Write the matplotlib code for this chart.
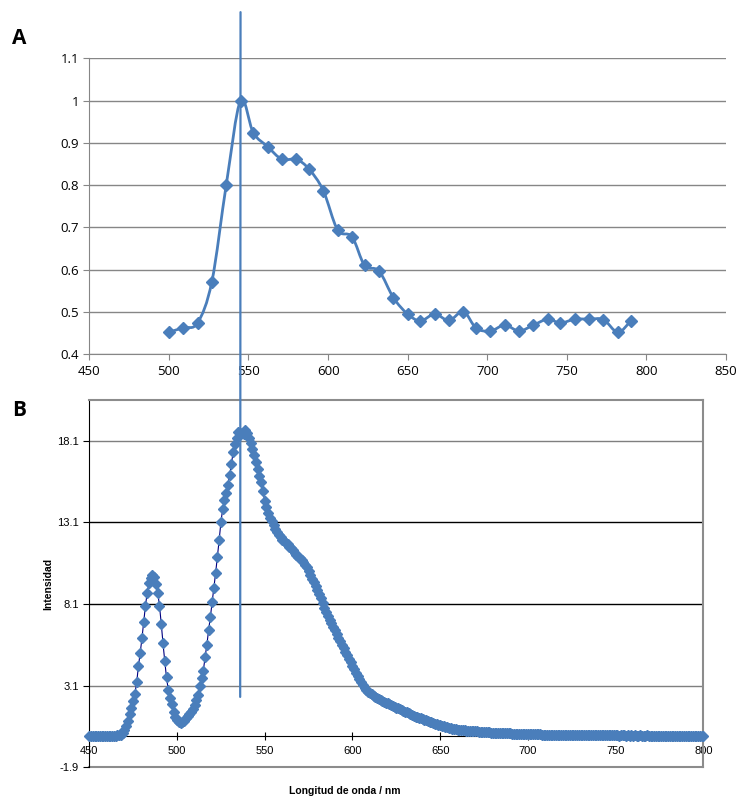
import numpy as np
import matplotlib
matplotlib.use("Agg")
import matplotlib.pyplot as plt
from matplotlib.patches import ConnectionPatch, PathPatch
from matplotlib.path import Path

# Panel A: espectro normalizado
onda_a = [500, 509, 518, 527, 536, 545, 553, 562, 571, 580, 588, 597, 606, 615, 623, 632, 641,
          650, 658, 667, 676, 685, 693, 702, 711, 720, 729, 738, 746, 755, 764, 773, 782, 790]
valor_a = [0.452, 0.463, 0.474, 0.572, 0.800, 1.000, 0.924, 0.891, 0.861, 0.861, 0.838, 0.787,
           0.694, 0.678, 0.610, 0.597, 0.534, 0.495, 0.479, 0.495, 0.480, 0.501, 0.462, 0.455,
           0.469, 0.455, 0.469, 0.483, 0.474, 0.483, 0.483, 0.482, 0.452, 0.478]
ticks_xa = [450, 500, 550, 600, 650, 700, 750, 800, 850]
ticks_ya = [0.4, 0.5, 0.6, 0.7, 0.8, 0.9, 1.0, 1.1]
etiquetas_ya = ["0.4", "0.5", "0.6", "0.7", "0.8", "0.9", "1", "1.1"]

# Panel B: intensidad cada 1 nm de 450 a 800
intensidad = [
    0.03, 0.02, 0.03, 0.03, 0.02, 0.03, 0.02, 0.03, 0.03, 0.02,   # 450
    0.03, 0.03, 0.02, 0.03, 0.03, 0.04, 0.05, 0.06, 0.09, 0.20,   # 460
    0.38, 0.60, 0.95, 1.35, 1.75, 2.15, 2.60, 3.30, 4.30, 5.10,   # 470
    6.00, 7.00, 8.00, 8.80, 9.40, 9.70, 9.90, 9.75, 9.30, 8.80,   # 480
    8.00, 6.90, 5.70, 4.60, 3.60, 2.85, 2.35, 1.95, 1.50, 1.20,   # 490
    1.00, 0.88, 0.83, 0.86, 0.96, 1.10, 1.23, 1.36, 1.50, 1.70,   # 500
    1.92, 2.20, 2.55, 3.05, 3.55, 4.02, 4.85, 5.60, 6.50, 7.30,   # 510
    8.20, 9.10, 10.00, 11.00, 12.00, 13.10, 13.90, 14.50, 14.90, 15.40,  # 520
    16.00, 16.70, 17.40, 17.90, 18.30, 18.65, 18.60, 18.55, 18.50, 18.75,  # 530
    18.55, 18.25, 17.95, 17.60, 17.20, 16.80, 16.40, 15.95, 15.55, 15.00,  # 540
    14.40, 14.05, 13.70, 13.40, 13.20, 12.95, 12.70, 12.50, 12.35, 12.20,  # 550
    12.05, 11.95, 11.85, 11.75, 11.62, 11.53, 11.40, 11.25, 11.12, 11.00,  # 560
    10.90, 10.80, 10.65, 10.50, 10.35, 10.10, 9.85, 9.65, 9.45, 9.20,   # 570
    8.95, 8.70, 8.45, 8.15, 7.85, 7.60, 7.36, 7.13, 6.92, 6.70,   # 580
    6.48, 6.26, 6.04, 5.82, 5.60, 5.38, 5.16, 4.95, 4.74, 4.53,   # 590
    4.32, 4.11, 3.90, 3.70, 3.50, 3.30, 3.12, 2.96, 2.84, 2.74,   # 600
    2.65, 2.57, 2.49, 2.41, 2.34, 2.28, 2.22, 2.16, 2.11, 2.06,   # 610
    2.01, 1.96, 1.91, 1.86, 1.81, 1.76, 1.71, 1.66, 1.61, 1.56,   # 620
    1.51, 1.46, 1.41, 1.36, 1.31, 1.26, 1.21, 1.17, 1.13, 1.09,   # 630
    1.05, 1.01, 0.97, 0.93, 0.89, 0.85, 0.81, 0.77, 0.74, 0.71,   # 640
    0.68, 0.65, 0.62, 0.59, 0.56, 0.53, 0.50, 0.47, 0.45, 0.43,   # 650
    0.41, 0.40, 0.38, 0.37, 0.36, 0.35, 0.34, 0.33, 0.32, 0.31,   # 660
    0.31, 0.30, 0.29, 0.28, 0.27, 0.26, 0.25, 0.25, 0.24, 0.23,   # 670
    0.22, 0.22, 0.21, 0.21, 0.20, 0.19, 0.19, 0.18, 0.18, 0.17,   # 680
    0.17, 0.16, 0.16, 0.15, 0.15, 0.15, 0.14, 0.14, 0.13, 0.13,   # 690
    0.13, 0.12, 0.12, 0.12, 0.11, 0.11, 0.11, 0.11, 0.10, 0.10,   # 700
    0.10, 0.10, 0.09, 0.09, 0.09, 0.09, 0.09, 0.08, 0.08, 0.08,   # 710
    0.08, 0.08, 0.08, 0.07, 0.07, 0.07, 0.07, 0.07, 0.07, 0.07,   # 720
    0.06, 0.06, 0.07, 0.06, 0.06, 0.06, 0.06, 0.05, 0.06, 0.06,   # 730
    0.06, 0.05, 0.06, 0.05, 0.05, 0.06, 0.05, 0.05, 0.05, 0.05,   # 740
    0.05, 0.05, 0.04, 0.05, 0.05, 0.05, 0.04, 0.05, 0.04, 0.05,   # 750
    0.04, 0.05, 0.04, 0.04, 0.05, 0.04, 0.04, 0.04, 0.05, 0.04,   # 760
    0.04, 0.04, 0.04, 0.04, 0.03, 0.04, 0.04, 0.04, 0.03, 0.04,   # 770
    0.04, 0.03, 0.04, 0.04, 0.03, 0.04, 0.03, 0.04, 0.03, 0.03,   # 780
    0.04, 0.03, 0.03, 0.04, 0.03, 0.03, 0.03, 0.04, 0.03, 0.03,   # 790
    0.03,                                                         # 800
]
onda_b = np.arange(450, 450 + len(intensidad))
ticks_xb = [450, 500, 550, 600, 650, 700, 750, 800]
ticks_yb = [-1.9, 3.1, 8.1, 13.1, 18.1]

azul = "#4a7ebb"
gris = "#868686"


def linea_suave(x, y):
    # curva tipo Excel (Catmull-Rom pasada a Bezier) que pasa por los puntos
    p = np.column_stack([x, y]).astype(float)
    p = np.vstack([p[0], p, p[-1]])
    verts = [p[1]]
    codes = [Path.MOVETO]
    for i in range(1, len(p) - 2):
        c1 = p[i] + (p[i + 1] - p[i - 1]) / 6
        c2 = p[i + 1] - (p[i + 2] - p[i]) / 6
        verts += [c1, c2, p[i + 1]]
        codes += [Path.CURVE4] * 3
    return Path(verts, codes)


fig = plt.figure(figsize=(7.4, 7.99), dpi=100)

# ---- Panel A ----
ax1 = fig.add_axes([0.1207, 0.5566, 0.8604, 0.3705])
ax1.add_patch(PathPatch(linea_suave(onda_a, valor_a), facecolor="none", edgecolor=azul,
                        lw=2.0, zorder=3))
ax1.plot(onda_a, valor_a, linestyle="none", marker="D", markersize=6.5,
         markerfacecolor=azul, markeredgecolor=azul, zorder=4)
ax1.set_xlim(450, 850)
ax1.set_ylim(0.4, 1.1)
ax1.set_xticks(ticks_xa)
ax1.set_yticks(ticks_ya)
ax1.set_yticklabels(etiquetas_ya)
for y in ticks_ya:
    ax1.axhline(y, color=gris, lw=1, zorder=1)
for s in ["top", "right"]:
    ax1.spines[s].set_visible(False)
for s in ["left", "bottom"]:
    ax1.spines[s].set_color(gris)
ax1.tick_params(axis="both", colors=gris, length=4, labelcolor="black",
                labelsize=9.5)
for t in ax1.get_xticklabels() + ax1.get_yticklabels():
    t.set_family("Open Sans")

# ---- Panel B ----
ax2 = fig.add_axes([0.1207, 0.0397, 0.8297, 0.4597])
ax2.plot(onda_b, intensidad, color="#000080", lw=0.8, marker="D", markersize=4.8,
         markerfacecolor=azul, markeredgecolor=azul, zorder=3, clip_on=False)
ax2.set_xlim(450, 800)
ax2.set_ylim(-1.9, 20.6)
ax2.set_xticks(ticks_xb)
ax2.set_yticks(ticks_yb)
ax2.set_yticklabels(["-1.9", "3.1", "8.1", "13.1", "18.1"])
for y, c in zip([3.1, 8.1, 13.1, 18.1], ["#7f7f7f", "black", "black", "#7f7f7f"]):
    ax2.axhline(y, color=c, lw=1, zorder=1)
ax2.axhline(-1.9, color="#8c8c8c", lw=1.5, zorder=1, clip_on=False)
ax2.spines["bottom"].set_position(("data", 0))
ax2.spines["bottom"].set_color("black")
ax2.spines["left"].set_color("black")
for s in ["top", "right"]:
    ax2.spines[s].set_color("#8c8c8c")
    ax2.spines[s].set_linewidth(1.5)
ax2.tick_params(axis="x", direction="inout", length=6, pad=4, labelsize=8)
ax2.tick_params(axis="y", direction="out", length=4, labelsize=8)
for t in ax2.get_xticklabels() + ax2.get_yticklabels():
    t.set_family("Liberation Sans")

ax2.set_ylabel("Intensidad", fontsize=7.5, fontweight="bold", family="Liberation Sans",
               labelpad=3)
fig.text(345 / 740, 1 - 791 / 799, "Longitud de onda / nm", ha="center", va="center",
         fontsize=7.5, fontweight="bold", family="Liberation Sans")

# etiquetas de panel
fig.text(12 / 740, 1 - 38 / 799, "A", fontsize=15, fontweight="bold", family="Open Sans",
         va="center")
fig.text(12 / 740, 1 - 410 / 799, "B", fontsize=15, fontweight="bold", family="Open Sans",
         va="center")

# línea vertical que cruza los dos paneles
linea = ConnectionPatch(xyA=(545, 1.209), coordsA=ax1.transData,
                        xyB=(536, 2.41), coordsB=ax2.transData,
                        color=azul, lw=1.6, zorder=10)
fig.add_artist(linea)

fig.savefig("out.png", dpi=100)
